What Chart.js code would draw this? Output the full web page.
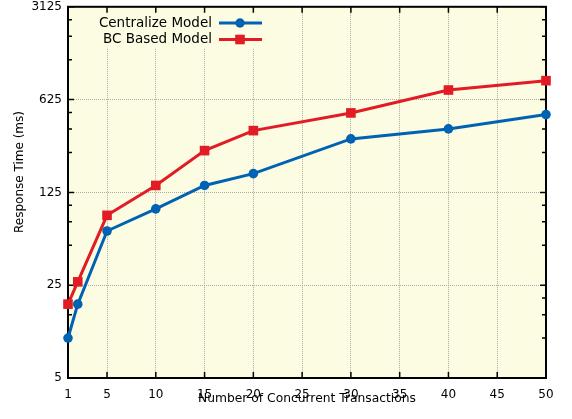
<!DOCTYPE html>
<html>
<head>
<meta charset="utf-8">
<script src="https://cdn.jsdelivr.net/npm/chart.js@4"></script>
<style>
  html, body { margin: 0; padding: 0; background: #fff; }
  #wrap { width: 572px; height: 419px; }
</style>
</head>
<body>
<div id="wrap"><canvas id="rtChart" width="572" height="419"></canvas></div>
<script>
const transactions = [1, 2, 5, 10, 15, 20, 30, 40, 50];
const centralized = [10, 18, 64, 94, 141, 173, 316, 376, 482];
const bcBased = [18, 26.5, 84, 141, 258, 365, 496, 738, 868];
const xTicks = [1, 5, 10, 15, 20, 25, 30, 35, 40, 45, 50];
const yTicks = [5, 25, 125, 625, 3125];
const seriesNames = ['Centralize Model', 'BC Based Model'];

const BLUE = 'rgb(0,98,178)';
const RED = 'rgb(226,28,36)';
const PAPER = '#fcfce3';
const FONT = '"DejaVu Sans", sans-serif';

// minor ticks: 2,3,4 x each major (base 5 decades)
const yMinor = [];
yTicks.slice(0, -1).forEach(v => [2, 3, 4].forEach(m => yMinor.push(v * m)));

const pts = ys => transactions.map((x, i) => ({ x: x, y: ys[i] }));

const framePlugin = {
  id: 'frame',
  beforeDraw(chart) {
    const { ctx, chartArea: a } = chart;
    ctx.save();
    ctx.fillStyle = PAPER;
    ctx.fillRect(a.left, a.top, a.right - a.left, a.bottom - a.top);
    ctx.restore();
  },
  beforeDatasetsDraw(chart) {
    const { ctx, chartArea: a, scales } = chart;
    ctx.save();
    // legend box hides the grid behind it
    ctx.fillStyle = PAPER;
    ctx.fillRect(a.left + 1, a.top + 1, 202, 40);

    ctx.strokeStyle = '#000';
    ctx.lineWidth = 1.5;
    ctx.beginPath();
    xTicks.forEach(v => {
      const px = scales.x.getPixelForValue(v);
      ctx.moveTo(px, a.bottom); ctx.lineTo(px, a.bottom - 6);
      ctx.moveTo(px, a.top); ctx.lineTo(px, a.top + 6);
    });
    yTicks.forEach(v => {
      const py = scales.y.getPixelForValue(v);
      ctx.moveTo(a.left, py); ctx.lineTo(a.left + 6, py);
      ctx.moveTo(a.right, py); ctx.lineTo(a.right - 6, py);
    });
    yMinor.forEach(v => {
      const py = scales.y.getPixelForValue(v);
      ctx.moveTo(a.left, py); ctx.lineTo(a.left + 4, py);
      ctx.moveTo(a.right, py); ctx.lineTo(a.right - 4, py);
    });
    ctx.stroke();

    ctx.lineWidth = 2;
    ctx.strokeRect(a.left, a.top, a.right - a.left, a.bottom - a.top);

    // y axis title
    ctx.fillStyle = '#000';
    ctx.font = '12px ' + FONT;
    ctx.textAlign = 'center';
    ctx.textBaseline = 'middle';
    ctx.translate(20, 172);
    ctx.rotate(-Math.PI / 2);
    ctx.fillText('Response Time (ms)', 0, 0);
    ctx.restore();

    // legend: text on the left, sample on the right
    ctx.save();
    ctx.font = '13.5px ' + FONT;
    ctx.textAlign = 'right';
    ctx.textBaseline = 'middle';
    chart.data.datasets.forEach((ds, i) => {
      const y = 23 + i * 16.5;
      ctx.fillStyle = '#000';
      ctx.fillText(ds.label, 212, y);
      ctx.strokeStyle = ds.borderColor;
      ctx.lineWidth = 3;
      ctx.beginPath();
      ctx.moveTo(219, y); ctx.lineTo(262, y);
      ctx.stroke();
      ctx.fillStyle = ds.borderColor;
      if (ds.pointStyle === 'rect') {
        ctx.fillRect(240 - 4.8, y - 4.8, 9.6, 9.6);
      } else {
        ctx.beginPath();
        ctx.arc(240, y, 4.7, 0, Math.PI * 2);
        ctx.fill();
      }
    });
    ctx.restore();
  }
};

new Chart(document.getElementById('rtChart'), {
  type: 'line',
  data: {
    datasets: [{
      label: seriesNames[0],
      data: pts(centralized),
      borderColor: BLUE,
      backgroundColor: BLUE,
      borderWidth: 3,
      pointStyle: 'circle',
      pointRadius: 4.8,
      pointBorderWidth: 0,
      clip: false
    }, {
      label: seriesNames[1],
      data: pts(bcBased),
      borderColor: RED,
      backgroundColor: RED,
      borderWidth: 3,
      pointStyle: 'rect',
      pointRadius: 6.8,
      pointBorderWidth: 0,
      clip: false
    }]
  },
  options: {
    responsive: false,
    animation: false,
    layout: { padding: { left: 0, right: 26, top: 6, bottom: 0 } },
    plugins: {
      legend: { display: false },
      tooltip: { enabled: false }
    },
    scales: {
      x: {
        type: 'linear',
        min: 1,
        max: 50,
        afterBuildTicks: s => { s.ticks = xTicks.map(v => ({ value: v })); },
        afterFit: s => { s.height = 41; s.paddingLeft = 0; s.paddingRight = 0; },
        ticks: {
          padding: 10,
          maxRotation: 0,
          autoSkip: false,
          color: '#000',
          font: { family: FONT, size: 12 }
        },
        grid: { color: '#ababab', lineWidth: 1, drawTicks: false },
        border: { display: false, dash: [1, 1] },
        title: {
          display: true,
          text: 'Number of Concurrent Transactions',
          color: '#000',
          font: { family: FONT, size: 12.3 },
          padding: { top: 0, bottom: 13 }
        }
      },
      y: {
        type: 'logarithmic',
        min: 5,
        max: 3125,
        afterBuildTicks: s => { s.ticks = yTicks.map(v => ({ value: v })); },
        afterFit: s => { s.width = 68; s.paddingTop = 0; s.paddingBottom = 0; },
        ticks: {
          padding: 6,
          autoSkip: false,
          color: '#000',
          font: { family: FONT, size: 12 },
          callback: v => String(v)
        },
        grid: { color: '#ababab', lineWidth: 1, drawTicks: false },
        border: { display: false, dash: [1, 1] },
        title: { display: false }
      }
    }
  },
  plugins: [framePlugin]
});
</script>
</body>
</html>
